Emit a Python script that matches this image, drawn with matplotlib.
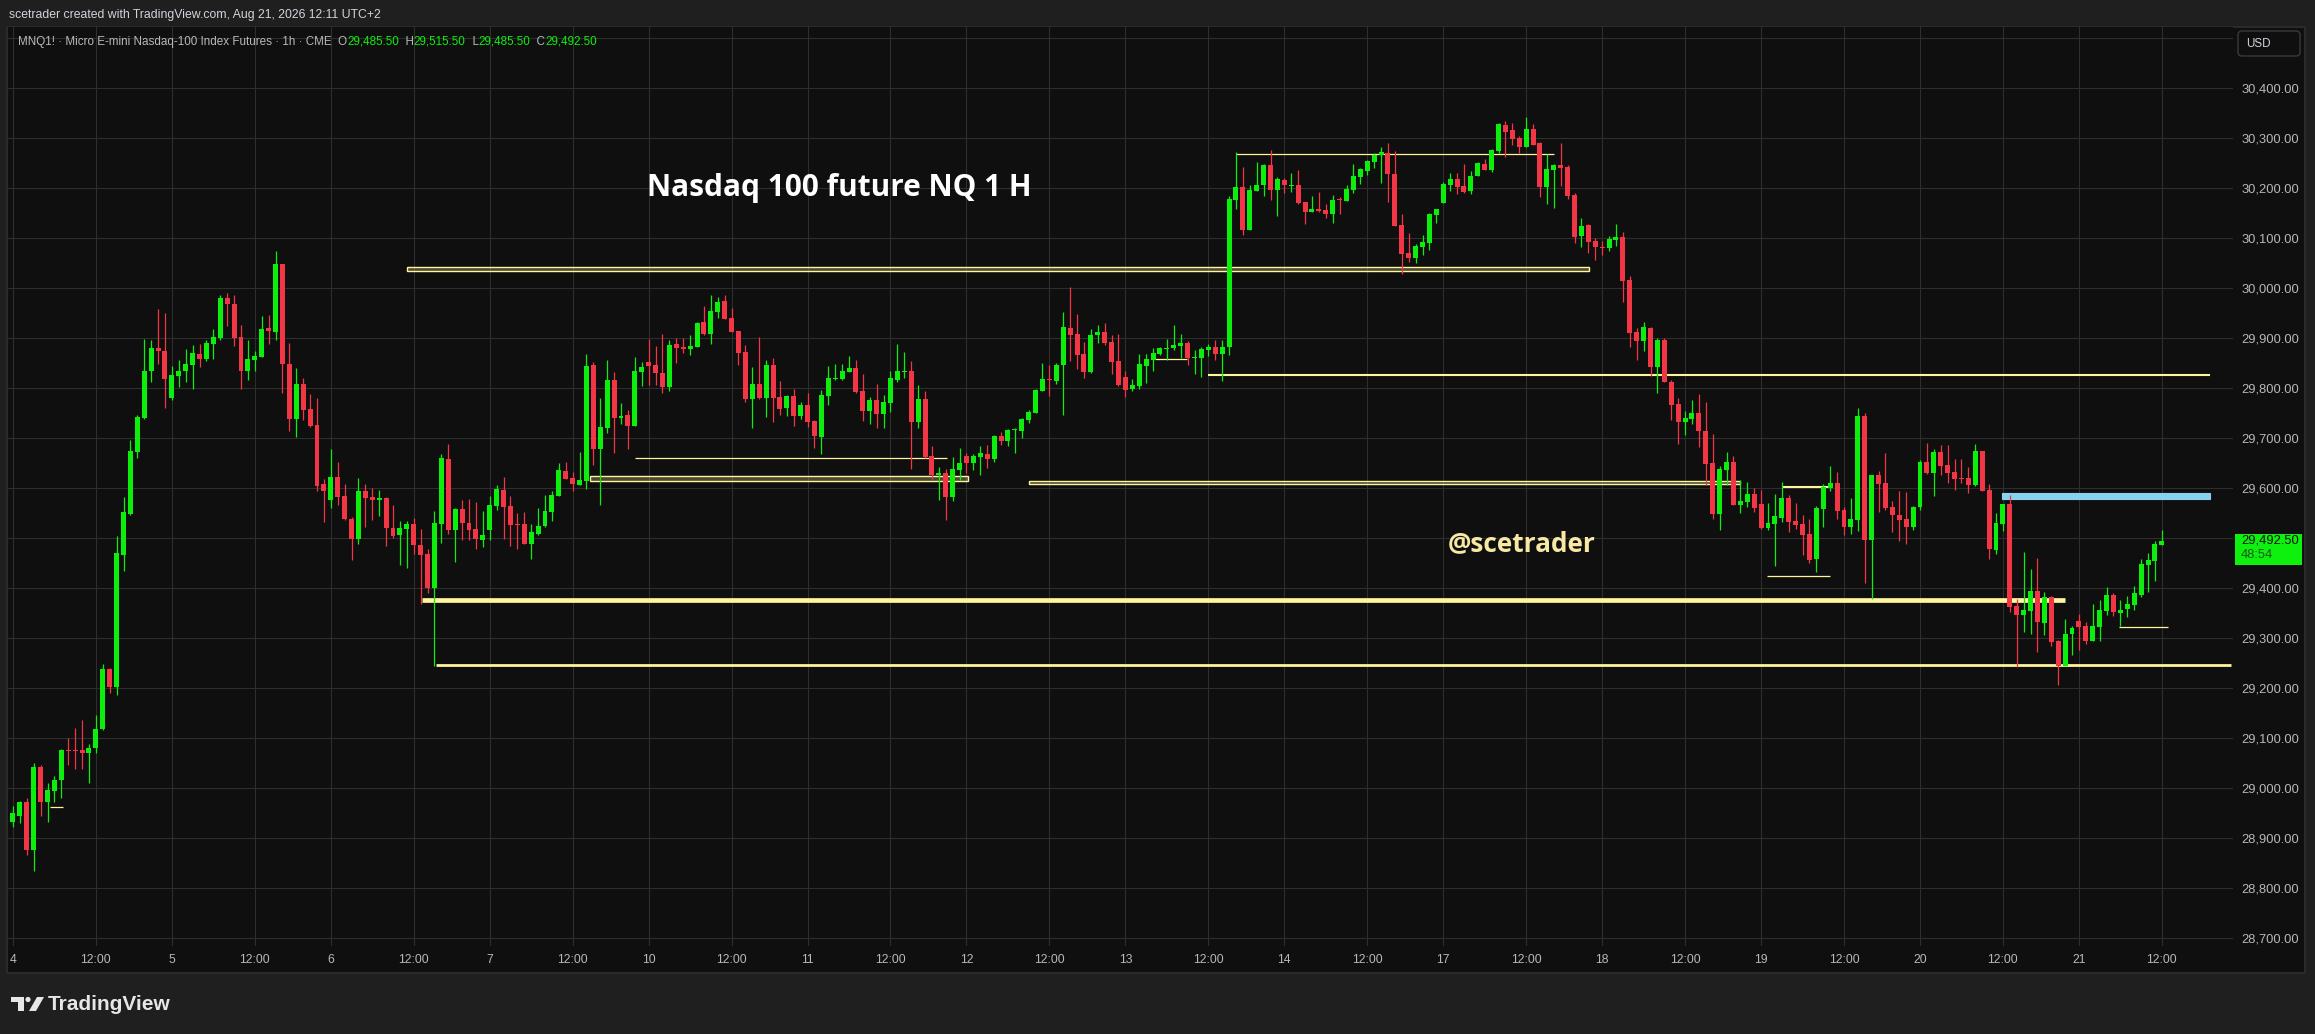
import numpy as np
import matplotlib
matplotlib.use("Agg")
import matplotlib.pyplot as plt
import matplotlib.transforms as mtransforms
from matplotlib import font_manager
from matplotlib.patches import Rectangle, FancyBboxPatch, Polygon, Circle
from matplotlib.ticker import FuncFormatter

# ---- data (MNQ1! 1h, Aug 4 - Aug 21) ----
days = ["4", "5", "6", "7", "10", "11", "12", "13", "14", "17", "18", "19", "20", "21"]
BARS_PER_DAY = 23  # CME session, 00:00-23:00 UTC+2

opens = [
    28932, 28944, 28971, 28876, 29041, 28971, 28993, 29015, 29075, 29074, 29075, 29070, 29079, 29118, 29238, 29202, 29465, 29548, 29671, 29740, 29833, 29880, 29874,
    29779, 29824, 29833, 29846, 29868, 29858, 29887, 29900, 29980, 29968, 29902, 29834, 29855, 29862, 29920, 29912, 30048, 29848, 29737, 29808, 29757, 29726, 29608,
    29575, 29622, 29584, 29538, 29497, 29594, 29582, 29575, 29580, 29520, 29505, 29517, 29527, 29485, 29467, 29399, 29527, 29657, 29515, 29557, 29529, 29517, 29495,
    29515, 29563, 29595, 29563, 29527, 29527, 29487, 29507, 29523, 29551, 29583, 29633, 29619, 29605, 29613, 29845, 29677, 29719, 29815, 29739, 29745, 29723, 29831,
    29851, 29845, 29829, 29801, 29887, 29881, 29877, 29881, 29931, 29907, 29951, 29973, 29939, 29913, 29871, 29777, 29807, 29779, 29845, 29781, 29759, 29783, 29743,
    29765, 29733, 29701, 29783, 29817, 29817, 29831, 29839, 29793, 29753, 29775, 29747, 29769, 29815, 29831, 29833, 29731, 29777, 29663, 29625, 29629, 29581, 29635,
    29663, 29649, 29661, 29667, 29657, 29703, 29693, 29715, 29713, 29735, 29749, 29793, 29817, 29813, 29845, 29919, 29907, 29867, 29831, 29905, 29911, 29891, 29853,
    29821, 29797, 29803, 29843, 29855, 29867, 29877, 29879, 29883, 29889, 29859, 29859, 29875, 29881, 29867, 29881, 30175, 30201, 30115, 30193, 30205, 30245, 30195,
    30215, 30203, 30205, 30171, 30151, 30157, 30155, 30147, 30177, 30173, 30195, 30221, 30233, 30251, 30265, 30269, 30227, 30125, 30069, 30059, 30081, 30089, 30145,
    30169, 30205, 30217, 30203, 30193, 30223, 30247, 30235, 30273, 30325, 30315, 30299, 30281, 30317, 30289, 30201, 30235, 30245, 30241, 30185, 30103, 30125, 30093,
    30081, 30079, 30095, 30101, 30015, 29911, 29893, 29919, 29841, 29895, 29811, 29767, 29731, 29737, 29749, 29713, 29649, 29547, 29635, 29651, 29565, 29571, 29587,
    29567, 29519, 29527, 29539, 29579, 29533, 29527, 29507, 29457, 29557, 29599, 29609, 29555, 29521, 29535, 29743, 29495, 29625, 29609, 29561, 29545, 29537, 29521,
    29561, 29651, 29629, 29671, 29645, 29631, 29619, 29619, 29605, 29673, 29595, 29475, 29527, 29567, 29363, 29345, 29353, 29393, 29329, 29381, 29293, 29243, 29307,
    29333, 29323, 29293, 29321, 29353, 29385, 29349, 29357, 29365, 29385, 29445, 29453, 29485.5,
]
highs = [
    28963, 28973, 28979, 29049, 29045, 29009, 29024, 29078, 29100, 29120, 29135, 29088, 29146, 29247, 29240, 29504, 29581, 29696, 29746, 29898, 29896, 29957, 29949,
    29843, 29856, 29877, 29886, 29888, 29895, 29917, 29986, 29990, 29986, 29926, 29895, 29873, 29944, 29946, 30073, 30048, 29890, 29840, 29820, 29787, 29780, 29618,
    29678, 29651, 29608, 29542, 29620, 29608, 29600, 29596, 29582, 29565, 29533, 29533, 29539, 29517, 29477, 29553, 29667, 29687, 29559, 29575, 29577, 29571, 29553,
    29583, 29605, 29621, 29583, 29549, 29551, 29527, 29559, 29585, 29593, 29649, 29651, 29631, 29671, 29867, 29851, 29779, 29855, 29831, 29769, 29755, 29861, 29851,
    29897, 29883, 29907, 29895, 29899, 29899, 29905, 29931, 29963, 29985, 29981, 29985, 29959, 29913, 29885, 29841, 29901, 29855, 29859, 29813, 29785, 29797, 29771,
    29789, 29735, 29795, 29843, 29847, 29847, 29863, 29855, 29827, 29781, 29807, 29785, 29833, 29887, 29871, 29853, 29805, 29793, 29683, 29641, 29637, 29661, 29679,
    29669, 29667, 29683, 29685, 29705, 29711, 29717, 29719, 29739, 29755, 29797, 29849, 29845, 29849, 29951, 30001, 29947, 29891, 29917, 29925, 29929, 29905, 29907,
    29833, 29817, 29867, 29867, 29879, 29881, 29897, 29925, 29907, 29893, 29875, 29881, 29887, 29895, 29895, 30183, 30271, 30241, 30205, 30251, 30247, 30275, 30221,
    30219, 30229, 30235, 30171, 30183, 30191, 30167, 30185, 30181, 30205, 30247, 30239, 30255, 30269, 30281, 30289, 30273, 30147, 30109, 30087, 30105, 30149, 30157,
    30211, 30229, 30229, 30247, 30233, 30251, 30257, 30277, 30329, 30333, 30329, 30303, 30341, 30327, 30291, 30267, 30247, 30289, 30245, 30189, 30139, 30127, 30099,
    30093, 30103, 30127, 30111, 30023, 29919, 29931, 29921, 29899, 29899, 29815, 29779, 29753, 29775, 29787, 29771, 29707, 29643, 29671, 29663, 29615, 29611, 29599,
    29595, 29569, 29587, 29611, 29585, 29569, 29545, 29537, 29563, 29607, 29643, 29631, 29561, 29579, 29759, 29749, 29625, 29633, 29669, 29573, 29593, 29591, 29563,
    29655, 29689, 29677, 29685, 29685, 29657, 29657, 29641, 29687, 29673, 29607, 29549, 29567, 29585, 29377, 29471, 29437, 29459, 29391, 29383, 29295, 29337, 29323,
    29347, 29331, 29367, 29375, 29401, 29389, 29375, 29383, 29403, 29457, 29469, 29493, 29515.5,
]
lows = [
    28921, 28929, 28865, 28833, 28944, 28931, 28971, 28979, 29045, 29038, 29038, 29009, 29070, 29115, 29189, 29186, 29433, 29545, 29660, 29738, 29811, 29847, 29759,
    29776, 29802, 29812, 29797, 29842, 29853, 29858, 29895, 29924, 29884, 29797, 29815, 29833, 29862, 29888, 29896, 29789, 29713, 29702, 29735, 29722, 29593, 29531,
    29560, 29566, 29536, 29455, 29488, 29522, 29536, 29544, 29484, 29500, 29445, 29439, 29467, 29367, 29389, 29243, 29489, 29507, 29451, 29495, 29495, 29477, 29481,
    29495, 29555, 29497, 29483, 29477, 29487, 29457, 29505, 29521, 29533, 29583, 29617, 29593, 29605, 29597, 29645, 29565, 29709, 29669, 29727, 29677, 29723, 29803,
    29805, 29805, 29789, 29793, 29849, 29869, 29865, 29881, 29905, 29887, 29939, 29937, 29911, 29845, 29771, 29719, 29777, 29741, 29731, 29745, 29743, 29723, 29737,
    29721, 29679, 29667, 29765, 29815, 29815, 29831, 29789, 29733, 29727, 29719, 29719, 29751, 29811, 29819, 29637, 29719, 29659, 29617, 29575, 29535, 29573, 29615,
    29629, 29635, 29625, 29639, 29651, 29685, 29683, 29669, 29699, 29729, 29749, 29793, 29783, 29807, 29745, 29853, 29837, 29819, 29829, 29889, 29885, 29827, 29803,
    29781, 29793, 29797, 29809, 29833, 29865, 29855, 29875, 29859, 29845, 29827, 29821, 29863, 29855, 29813, 29865, 30157, 30105, 30115, 30193, 30183, 30175, 30143,
    30189, 30191, 30167, 30127, 30151, 30151, 30139, 30129, 30147, 30173, 30189, 30207, 30225, 30239, 30209, 30171, 30123, 30027, 30051, 30049, 30065, 30075, 30129,
    30169, 30193, 30187, 30189, 30187, 30223, 30235, 30231, 30269, 30261, 30285, 30269, 30281, 30285, 30181, 30167, 30159, 30203, 30177, 30089, 30081, 30069, 30055,
    30065, 30073, 30083, 29971, 29881, 29855, 29873, 29823, 29789, 29811, 29735, 29687, 29705, 29727, 29681, 29605, 29537, 29515, 29605, 29565, 29549, 29561, 29551,
    29517, 29515, 29443, 29531, 29511, 29517, 29465, 29449, 29431, 29521, 29593, 29537, 29505, 29507, 29513, 29409, 29377, 29551, 29555, 29511, 29493, 29487, 29515,
    29555, 29627, 29583, 29625, 29609, 29595, 29609, 29589, 29603, 29593, 29457, 29467, 29513, 29351, 29241, 29311, 29307, 29271, 29305, 29283, 29205, 29243, 29265,
    29275, 29287, 29293, 29293, 29345, 29343, 29323, 29341, 29355, 29381, 29391, 29413, 29485.5,
]
closes = [
    28949, 28971, 28876, 29041, 28971, 28995, 29015, 29075, 29073, 29073, 29070, 29079, 29118, 29238, 29202, 29470, 29551, 29673, 29742, 29834, 29880, 29873, 29817,
    29826, 29834, 29848, 29870, 29858, 29890, 29902, 29980, 29968, 29900, 29834, 29858, 29864, 29918, 29913, 30048, 29847, 29737, 29808, 29755, 29724, 29604, 29593,
    29622, 29582, 29538, 29497, 29594, 29580, 29575, 29580, 29520, 29504, 29519, 29527, 29485, 29465, 29399, 29529, 29659, 29515, 29557, 29529, 29515, 29497, 29505,
    29565, 29597, 29561, 29525, 29525, 29487, 29511, 29523, 29553, 29585, 29635, 29617, 29607, 29615, 29843, 29677, 29721, 29815, 29739, 29743, 29723, 29833, 29841,
    29843, 29829, 29801, 29885, 29879, 29877, 29883, 29929, 29907, 29953, 29971, 29937, 29911, 29869, 29777, 29807, 29779, 29845, 29779, 29757, 29783, 29743, 29765,
    29731, 29703, 29785, 29819, 29819, 29833, 29839, 29791, 29753, 29775, 29747, 29771, 29819, 29833, 29833, 29731, 29777, 29661, 29625, 29629, 29581, 29637, 29649,
    29649, 29663, 29669, 29657, 29703, 29693, 29715, 29717, 29737, 29751, 29795, 29817, 29815, 29845, 29921, 29905, 29865, 29831, 29905, 29911, 29889, 29851, 29805,
    29795, 29805, 29847, 29857, 29869, 29879, 29879, 29885, 29889, 29859, 29861, 29877, 29881, 29867, 29881, 30177, 30201, 30115, 30195, 30205, 30245, 30195, 30217,
    30205, 30205, 30169, 30151, 30157, 30153, 30147, 30175, 30175, 30197, 30223, 30237, 30253, 30265, 30271, 30227, 30123, 30067, 30059, 30083, 30091, 30147, 30157,
    30207, 30217, 30201, 30191, 30223, 30249, 30235, 30275, 30327, 30311, 30297, 30281, 30317, 30285, 30201, 30237, 30245, 30239, 30183, 30101, 30123, 30091, 30081,
    30080, 30097, 30101, 30013, 29909, 29893, 29921, 29841, 29895, 29811, 29765, 29731, 29739, 29749, 29713, 29647, 29547, 29637, 29651, 29565, 29573, 29587, 29559,
    29519, 29529, 29543, 29579, 29531, 29525, 29505, 29455, 29559, 29601, 29609, 29553, 29521, 29537, 29743, 29495, 29625, 29607, 29559, 29545, 29535, 29521, 29561,
    29651, 29629, 29671, 29643, 29629, 29617, 29617, 29605, 29673, 29593, 29477, 29529, 29567, 29361, 29345, 29355, 29393, 29331, 29381, 29291, 29243, 29307, 29319,
    29321, 29293, 29323, 29355, 29385, 29351, 29355, 29367, 29389, 29447, 29455, 29487, 29492.5,
]

# drawn levels: (start bar, end bar, price)
thin_levels = [(177, 223, 30267), (90, 135.2, 29660), (165.3, 169.9, 29857),
               (253.9, 263, 29423), (304.8, 311.9, 29321), (5.4, 7.2, 28961)]
mid_levels = [(173, 318, 29826), (256, 263.4, 29601)]
low_level = (61.2, 321, 29246)
key_level = (59.2, 297, 29375)
# boxes: (start bar, end bar, low price, high price)
yellow_boxes = [(57, 228.1, 30033, 30041), (83.5, 138.2, 29614, 29624), (147.1, 250, 29608, 29613)]
blue_box = (287.9, 318, 29578, 29589)

# ---- look ----
W, H = 2315, 1034
BG = "#1f1f1f"
PANE = "#0f0f0f"
GRID = "#2e2e2e"
GREEN = "#0cef0c"
RED = "#f23645"
YELLOW = "#fff59d"
TXT = "#b8b8b8"

available = {f.name for f in font_manager.fontManager.ttflist}
if "Liberation Sans Narrow" in available:
    UI_FONT, K = "Liberation Sans Narrow", 1.0
else:
    UI_FONT, K = "Liberation Sans", 0.84

fig = plt.figure(figsize=(W / 100, H / 100), dpi=100, facecolor=BG)
pix = mtransforms.Affine2D().scale(1 / W, -1 / H).translate(0, 1) + fig.transFigure

# chart panel
fig.patches.append(Rectangle((7, 27), 2298, 946, transform=pix, facecolor=PANE,
                             edgecolor="#2a2a2a", lw=1.5, zorder=-1))

ax = fig.add_axes([8 / W, 1 - 946 / H, 2225 / W, 919 / H])
ax.set_facecolor(PANE)
for s in ax.spines.values():
    s.set_visible(False)
ax.set_axisbelow(True)

n = len(closes)
idx = np.arange(n)
o = np.array(opens, dtype=float)
c = np.array(closes, dtype=float)
hi = np.array(highs, dtype=float)
lo = np.array(lows, dtype=float)
colors = np.where(c >= o, GREEN, RED)

# levels (under the candles)
for x0, x1, p in thin_levels:
    ax.hlines(p, x0, x1, color=YELLOW, lw=0.9, zorder=2)
for x0, x1, p in mid_levels:
    ax.hlines(p, x0, x1, color=YELLOW, lw=1.5, zorder=2)
ax.hlines(low_level[2], low_level[0], low_level[1], color=YELLOW, lw=2.0, zorder=2)
ax.hlines(key_level[2], key_level[0], key_level[1], color=YELLOW, lw=3.4, zorder=2)
for x0, x1, p0, p1 in yellow_boxes:
    ax.add_patch(Rectangle((x0, p0), x1 - x0, p1 - p0, facecolor=(1, 0.96, 0.62, 0.25),
                           edgecolor=YELLOW, lw=1.0, zorder=2))
ax.add_patch(Rectangle((blue_box[0], blue_box[2]), blue_box[1] - blue_box[0],
                       blue_box[3] - blue_box[2], facecolor="#80d6ee",
                       edgecolor="#9cc8f5", lw=0.8, zorder=2))

# candles
ax.vlines(idx, lo, hi, colors=colors, lw=0.9, zorder=3)
body_lo = np.minimum(o, c)
body_h = np.abs(c - o)
flat = body_h < 2
body_lo[flat] -= (2 - body_h[flat]) / 2
body_h[flat] = 2
ax.bar(idx, body_h, bottom=body_lo, width=0.72, color=colors, lw=0, zorder=4)

ax.set_xlim(-0.72, 321.3)
ax.set_ylim(28683.4, 30521.4)

# price scale (top label sits under the currency box, so leave it blank)
ax.yaxis.tick_right()
ax.set_yticks(np.arange(28700, 30501, 100))
ax.yaxis.set_major_formatter(FuncFormatter(lambda v, _: "" if v > 30450 else f"{v:,.2f}"))
ax.tick_params(axis="y", length=0, pad=6, labelsize=11 * K, labelcolor=TXT)
for t in ax.get_yticklabels():
    t.set_fontfamily(UI_FONT)

# time scale
tick_pos, tick_lab = [], []
for d, name in enumerate(days):
    tick_pos += [d * BARS_PER_DAY, d * BARS_PER_DAY + 12]
    tick_lab += [name, "12:00"]
ax.set_xticks(tick_pos)
ax.set_xticklabels(tick_lab)
ax.tick_params(axis="x", length=0, pad=6, labelsize=10.5 * K, labelcolor=TXT)
for t in ax.get_xticklabels():
    t.set_fontfamily(UI_FONT)

ax.grid(True, color=GRID, lw=0.8)

# annotations on the chart
ax.text(91.8, 30200, "Nasdaq 100 future NQ 1 H", color="white", fontsize=21.4,
        fontweight="bold", family=["Open Sans", "DejaVu Sans"], va="center", ha="left", zorder=6)
ax.text(207.6, 29488, "@scetrader", color="#f7e8a4", fontsize=18.9,
        fontweight="bold", family=["Open Sans", "DejaVu Sans"], va="center", ha="left", zorder=6)

# last price tag
blend = mtransforms.blended_transform_factory(ax.transAxes, ax.transData)
last = closes[-1]
ax.add_patch(Rectangle((1.0009, last - 47), 0.0301, 62, transform=blend,
                       facecolor="#0ef00e", lw=0, clip_on=False, zorder=10))
ax.text(1.0036, last + 1, f"{last:,.2f}", transform=blend, color="#111111",
        fontsize=11 * K, family=UI_FONT, va="center", ha="left", zorder=11, clip_on=False)
ax.text(1.0036, last - 27, "48:54", transform=blend, color="#1d5a1d",
        fontsize=11 * K, family=UI_FONT, va="center", ha="left", zorder=11, clip_on=False)

# currency box
fig.patches.append(FancyBboxPatch((2238, 31), 62, 25, boxstyle="round,pad=0,rounding_size=4",
                                  transform=pix, facecolor=PANE, edgecolor="#3a3a3a",
                                  lw=1.0, zorder=2))
fig.text(2246 / W, 1 - 44 / H, "USD", color="#d1d4dc", fontsize=10 * K,
         family=UI_FONT, va="center", ha="left", zorder=3)

# header
fig.text(9 / W, 1 - 15 / H, "scetrader created with TradingView.com, Aug 21, 2026 12:11 UTC+2",
         color="#d1d4dc", fontsize=10.5 * K, family=UI_FONT, va="center", ha="left")

# legend line with OHLC of the last bar
pieces = [("MNQ1! · Micro E-mini Nasdaq-100 Index Futures · 1h · CME  O", TXT),
          (f"{opens[-1]:,.2f}", GREEN), ("  H", TXT), (f"{highs[-1]:,.2f}", GREEN),
          ("  L", TXT), (f"{lows[-1]:,.2f}", GREEN), ("  C", TXT), (f"{closes[-1]:,.2f}", GREEN)]
prev = fig.text(18 / W, 1 - 42 / H, pieces[0][0], color=pieces[0][1], fontsize=10 * K,
                family=UI_FONT, va="center", ha="left")
for s, col in pieces[1:]:
    prev = ax.annotate(s, xy=(1, 0), xycoords=prev, va="bottom", ha="left", color=col,
                       fontsize=10 * K, family=UI_FONT, annotation_clip=False)

# TradingView logo
logo_col = "#e6e6e6"
fig.patches.append(Polygon([(11, 997), (24, 997), (24, 1011), (18, 1011), (18, 1002), (11, 1002)],
                           closed=True, transform=pix, facecolor=logo_col, lw=0))
fig.patches.append(Circle((28, 999.5), 2.6, transform=pix, facecolor=logo_col, lw=0))
fig.patches.append(Polygon([(37, 997), (44, 997), (36, 1011), (29, 1011)],
                           closed=True, transform=pix, facecolor=logo_col, lw=0))
fig.text(48 / W, 1 - 1004 / H, "TradingView", color=logo_col, fontsize=15,
         fontweight="bold", family=UI_FONT, va="center", ha="left")

fig.savefig("out.png", dpi=100, facecolor=BG)
